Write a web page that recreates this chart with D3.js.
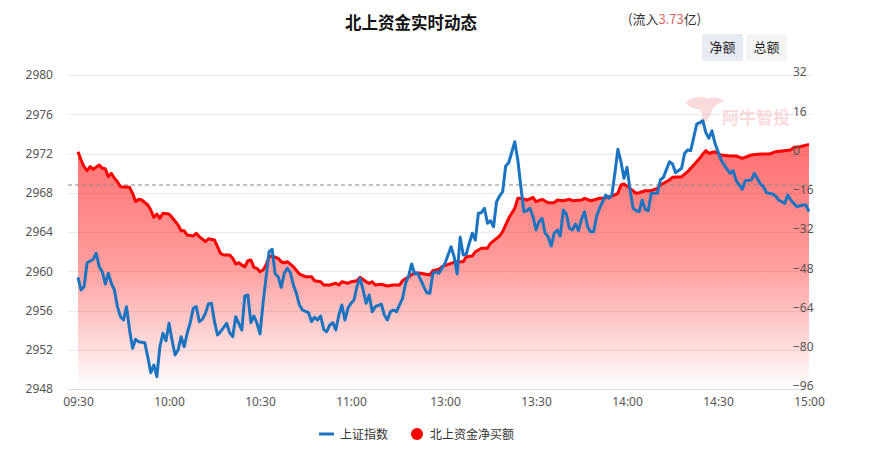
<!DOCTYPE html>
<html><head><meta charset="utf-8">
<script src="https://cdn.jsdelivr.net/npm/d3@7"></script>
<style>
html,body{margin:0;padding:0;background:#fff;}
svg{display:block;font-family:"Noto Sans CJK SC","Noto Sans",sans-serif;}
</style></head>
<body><svg id="c" width="869" height="458"></svg>
<script>
// ---------- data ----------
const titleText = "北上资金实时动态";
const flowLabel = ["(流入", "3.73", "亿)"];
const seriesNames = ["上证指数", "北上资金净买额"];
const xTickIdx = [0, 30, 60, 90, 121, 151, 181, 211, 241];
const xTickLabels = ["09:30","10:00","10:30","11:00","13:00","13:30","14:00","14:30","15:00"];
const leftTicks = [2948, 2952, 2956, 2960, 2964, 2968, 2972, 2976, 2980];
const rightTicks = [-96, -80, -64, -48, -32, -16, 0, 16, 32];
const preClose = 2968.79;

// 北上资金净买额 (亿) : minute slot index / value
const flowIdx = [0,1,2,3,4,5,7,8,9,10,11,12,13,14,17,18,19,20,21,23,24,25,26,27,28,30,31,33,34,35,36,38,39,40,42,43,45,46,47,48,50,51,52,53,54,55,56,57,58,59,60,61,62,63,64,66,67,68,69,71,73,75,77,78,80,81,83,85,86,87,89,90,92,93,95,96,97,98,100,102,104,106,107,109,111,113,116,117,119,120,123,125,127,128,130,131,133,135,136,139,140,142,144,145,146,148,150,151,153,155,157,158,160,162,163,166,167,169,170,172,173,176,178,179,180,182,184,185,187,189,191,192,195,196,199,201,202,205,206,207,208,210,212,215,217,219,222,224,226,228,230,233,235,236,238,241];
const flowVal = [0.73,-2.65,-5.38,-7.01,-5.38,-6.44,-4.69,-6.04,-6.2,-9.46,-8.07,-10.11,-11.5,-13.54,-13.78,-16.23,-19.65,-18.67,-18.96,-21,-23.03,-26.01,-24.67,-26.42,-24.38,-24.67,-26.01,-29.15,-31.47,-31.47,-33.23,-33.63,-32.53,-33.92,-35.96,-34.73,-35.26,-38,-40.69,-41.38,-41.38,-42.72,-45.05,-44.52,-45.46,-46.15,-43.7,-43.42,-46.39,-46.8,-48.19,-47.49,-45.46,-42.07,-41.79,-42.72,-44.11,-44.52,-44.11,-46.15,-49.13,-50.23,-50.23,-51.86,-52.26,-53.61,-53.61,-52.92,-53.61,-52.26,-52.92,-52.26,-51.86,-50.47,-52.26,-52.92,-52.26,-53.61,-53.32,-54.02,-53.61,-53.61,-51.86,-50.23,-48.6,-48.84,-49.53,-47.78,-47.21,-46.15,-44.76,-44.11,-44.11,-42.07,-41.79,-40.03,-38.65,-38.65,-36.61,-33.63,-31.88,-26.42,-22.34,-18.27,-18.27,-18.96,-17.86,-19.65,-18.67,-20.06,-20.06,-18.96,-19.24,-18.67,-19.24,-18.96,-18.27,-19.24,-18.96,-18.27,-18.27,-17.33,-16.23,-12.84,-12.44,-14.19,-16.23,-15.98,-15.17,-15.17,-14.19,-12.84,-10.8,-9.7,-9.46,-7.42,-6.04,-1.96,-0.2,1.14,0.08,0.73,-0.61,-1.02,-1.02,-1.96,-0.61,-0.33,-0.2,-0.2,0.73,1.14,1.43,2.53,2.77,3.73];

// 上证指数 : minute slot index / value
const shIdx = [0,1,2,3,5,6,7,8,9,10,11,12,13,14,15,16,17,18,19,20,22,23,24,25,26,27,28,29,30,31,32,33,34,35,36,37,38,39,40,41,42,43,44,45,46,47,49,50,51,52,53,54,55,56,57,58,59,60,61,63,64,65,66,67,68,69,70,71,72,73,74,76,77,78,79,80,81,82,83,84,85,86,87,88,89,90,91,92,93,94,95,96,97,98,100,101,102,103,104,105,107,108,109,110,111,112,114,115,116,117,118,119,121,122,123,124,125,126,127,128,129,130,131,132,133,134,135,136,137,138,139,140,141,142,144,145,146,147,148,149,150,151,152,153,154,155,156,157,158,159,160,161,162,163,164,165,166,167,168,169,170,171,172,174,175,176,177,178,179,180,181,182,183,184,185,186,187,188,189,191,192,193,195,196,197,199,200,201,202,204,205,206,207,208,209,210,212,213,215,216,217,219,220,222,223,225,226,227,229,230,231,233,234,235,237,239,240,241];
const shVal = [2959.38,2958.09,2958.43,2960.87,2961.22,2961.83,2960.46,2959.95,2958.7,2959.79,2958.77,2958.09,2956.39,2955.37,2955.03,2956.39,2954.01,2952.15,2953.06,2952.82,2952.72,2951.29,2949.66,2950.45,2949.25,2952.31,2953.68,2952.92,2954.7,2952.99,2951.46,2951.97,2953.33,2952.31,2953.68,2954.76,2956.22,2956.39,2954.86,2955.1,2955.71,2956.66,2956.73,2954.86,2953.5,2953.84,2954.7,2953.74,2953.33,2955.37,2954.7,2954.01,2957.48,2957.58,2954.76,2955.44,2954.7,2953.61,2956.73,2961.99,2962.24,2959.72,2959.44,2958.36,2959.79,2960.3,2959.85,2958.6,2957.75,2956.56,2956.05,2955.78,2954.86,2955.31,2955.03,2955.44,2954.08,2953.84,2954.52,2954.76,2954.01,2955.54,2956.56,2955.03,2956.22,2956.73,2957.07,2958.5,2959.28,2958.09,2956.73,2957.58,2955.88,2956.39,2956.66,2955.54,2955.03,2955.88,2956.05,2955.88,2957.24,2958.77,2959.52,2960.74,2959.72,2959.79,2958.43,2957.81,2957.75,2959.79,2959.95,2959.79,2960.81,2961.66,2962.5,2961.48,2959.72,2963.46,2961.66,2961.76,2962.85,2963.87,2963.18,2965.91,2965.97,2966.42,2964.89,2965.15,2964.54,2967.09,2967.67,2968.11,2970.73,2971.06,2973.2,2971.34,2968.62,2966.07,2966.17,2966.42,2965.56,2964.2,2965.05,2965.4,2963.87,2963.52,2962.57,2963.87,2964.2,2963.59,2966.24,2965.83,2964.38,2964.2,2964.82,2964.13,2965.29,2966.07,2964.54,2964.03,2964.03,2965.63,2966.45,2967.77,2967.43,2967.77,2969.98,2972.43,2971.16,2969.47,2970.59,2968.28,2966.42,2966.17,2966.07,2967.26,2966.31,2966.17,2967.94,2967.94,2969.3,2969.57,2971.16,2970.93,2970.04,2970.49,2972.02,2972.36,2972.29,2975.01,2975.14,2975.34,2974.12,2973.55,2974.32,2973.04,2971.34,2970.83,2969.98,2970.25,2969.23,2968.35,2969.23,2969.3,2969.98,2968.89,2968.62,2968,2967.87,2967.67,2967.26,2966.92,2967.77,2967.26,2966.58,2966.75,2966.75,2966.07];

// ---------- chart ----------
const svg = d3.select("#c");
const plot = {x0: 68, x1: 812, y0: 75, y1: 389};
const x = d3.scaleLinear().domain([0, 241]).range([78, 809]);
const yL = d3.scaleLinear().domain([2948, 2980]).range([389, 75]);
const yR = d3.scaleLinear().domain([-96, 32]).range([389, 75]);

const flowData = flowIdx.map((d, i) => ({i: d, v: flowVal[i]}));
const shData = shIdx.map((d, i) => ({i: d, v: shVal[i]}));

const defs = svg.append("defs");
const grad = defs.append("linearGradient").attr("id", "fg")
  .attr("gradientUnits", "userSpaceOnUse")
  .attr("x1", 0).attr("x2", 0).attr("y1", 145).attr("y2", 389);
grad.append("stop").attr("offset", 0).attr("stop-color", "rgb(255,0,0)").attr("stop-opacity", 0.56);
grad.append("stop").attr("offset", 0.5).attr("stop-color", "rgb(255,0,0)").attr("stop-opacity", 0.38);
grad.append("stop").attr("offset", 0.85).attr("stop-color", "rgb(255,0,0)").attr("stop-opacity", 0.12);
grad.append("stop").attr("offset", 1).attr("stop-color", "rgb(255,0,0)").attr("stop-opacity", 0.0);

// grid lines
svg.append("g").selectAll("line").data(leftTicks).join("line")
  .attr("x1", plot.x0).attr("x2", plot.x1)
  .attr("y1", d => Math.round(yL(d)) + 0.5).attr("y2", d => Math.round(yL(d)) + 0.5)
  .attr("stroke", d => d === 2948 ? "#dcdcdc" : "#ebebeb").attr("stroke-width", 1);

// watermark
const wm = svg.append("g").attr("opacity", 0.45);
wm.append("path")
  .attr("d", "M686,103 C690,96 702,95 708,99 C714,96 722,98 724,102 C718,103 714,106 712,110 C710,118 704,124 700,128 L698,125 C702,120 704,114 700,110 C694,108 688,107 686,103 Z")
  .attr("fill", "#f3b0b0");
wm.append("text").attr("x", 722).attr("y", 124).attr("font-size", 17).attr("font-weight", 700)
  .attr("fill", "#f3b0b0").text("阿牛智投");

// area + lines
const area = d3.area().x(d => x(d.i)).y0(yR(-96) - 2).y1(d => yR(d.v));
svg.append("path").datum(flowData).attr("d", area).attr("fill", "url(#fg)");

// pre-close dashed line
svg.append("line").attr("x1", plot.x0).attr("x2", plot.x1)
  .attr("y1", yL(preClose)).attr("y2", yL(preClose))
  .attr("stroke", "#888").attr("stroke-width", 1).attr("stroke-dasharray", "4,3");

const lineF = d3.line().x(d => x(d.i)).y(d => yR(d.v));
const lineS = d3.line().x(d => x(d.i)).y(d => yL(d.v));
svg.append("path").datum(flowData).attr("d", lineF).attr("fill", "none")
  .attr("stroke", "#ff0000").attr("stroke-width", 3).attr("stroke-linejoin", "round");
svg.append("path").datum(shData).attr("d", lineS).attr("fill", "none")
  .attr("stroke", "#1b74c2").attr("stroke-width", 3).attr("stroke-linejoin", "round");

// axes
const axL = d3.axisLeft(yL).tickValues(leftTicks).tickSize(0).tickPadding(0).tickFormat(d3.format("d"));
const gL = svg.append("g").attr("transform", "translate(53,0)").call(axL);
gL.select(".domain").remove();
gL.selectAll("text").attr("font-size", 12).attr("fill", "#555").attr("font-family", "'Noto Sans','Noto Sans CJK SC',sans-serif");

const axR = d3.axisRight(yR).tickValues(rightTicks).tickSize(0).tickPadding(0).tickFormat(d => d < 0 ? "\u2212" + Math.abs(d) : String(d));
const gR = svg.append("g").attr("transform", "translate(793,-3)").call(axR);
gR.select(".domain").remove();
gR.selectAll("text").attr("font-size", 12).attr("fill", "#555").attr("font-family", "'Noto Sans','Noto Sans CJK SC',sans-serif");

const axB = d3.axisBottom(x).tickValues(xTickIdx).tickSize(0).tickPadding(0)
  .tickFormat((d, i) => xTickLabels[i]);
const gB = svg.append("g").attr("transform", "translate(0,397)").call(axB);
gB.select(".domain").remove();
gB.selectAll("text").attr("font-size", 12).attr("fill", "#555").attr("font-family", "'Noto Sans','Noto Sans CJK SC',sans-serif");

// title
svg.append("text").attr("x", 411).attr("y", 29).attr("text-anchor", "middle")
  .attr("font-size", 16.5).attr("font-weight", 700).attr("fill", "#111").text(titleText);
const ft = svg.append("text").attr("x", 628).attr("y", 24).attr("font-size", 13).attr("fill", "#333");
ft.append("tspan").text(flowLabel[0]);
ft.append("tspan").attr("fill", "#e06666").text(flowLabel[1]);
ft.append("tspan").text(flowLabel[2]);

// buttons
const btns = [{t: "净额", x: 702, bg: "#e7ebf4"}, {t: "总额", x: 746, bg: "#f4f4f4"}];
const bg = svg.append("g").selectAll("g").data(btns).join("g");
bg.append("rect").attr("x", d => d.x).attr("y", 34).attr("width", 41).attr("height", 27).attr("rx", 2).attr("fill", d => d.bg);
bg.append("text").attr("x", d => d.x + 20.5).attr("y", 52).attr("text-anchor", "middle")
  .attr("font-size", 13).attr("fill", "#222").text(d => d.t);

// legend
const lg = svg.append("g");
lg.append("line").attr("x1", 319).attr("x2", 334).attr("y1", 434).attr("y2", 434).attr("stroke", "#1b74c2").attr("stroke-width", 3);
lg.append("text").attr("x", 340).attr("y", 438.5).attr("font-size", 12).attr("fill", "#333").text(seriesNames[0]);
lg.append("circle").attr("cx", 417).attr("cy", 434).attr("r", 6).attr("fill", "#ff0000");
lg.append("text").attr("x", 430).attr("y", 438.5).attr("font-size", 12).attr("fill", "#333").text(seriesNames[1]);
</script></body></html>
